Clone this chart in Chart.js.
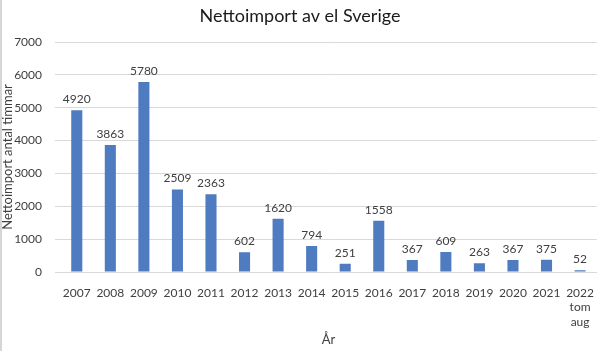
<!DOCTYPE html>
<html>
<head>
<meta charset="utf-8">
<script src="https://cdn.jsdelivr.net/npm/chart.js@4"></script>
<style>
  html, body { margin: 0; padding: 0; background: #fff; }
  #wrap { width: 600px; height: 351px; }
</style>
</head>
<body>
<div id="wrap"><canvas id="chart" width="600" height="351"></canvas></div>
<script>
// ── Data ────────────────────────────────────────────────
const years  = ["2007", "2008", "2009", "2010", "2011", "2012", "2013", "2014",
                "2015", "2016", "2017", "2018", "2019", "2020", "2021", ["2022", "tom", "aug"]];
const hours  = [4920, 3863, 5780, 2509, 2363, 602, 1620, 794,
                251, 1558, 367, 609, 263, 367, 375, 52];
const yTicks = [0, 1000, 2000, 3000, 4000, 5000, 6000, 7000];

const FONT = "Lato, 'Open Sans', sans-serif";
const GRID = "#d9d9d9";
const TEXT = "#404040";

// value labels above each bar
const valueLabels = {
  id: "valueLabels",
  afterDatasetsDraw(chart) {
    const ctx = chart.ctx;
    const meta = chart.getDatasetMeta(0);
    ctx.save();
    ctx.font = "12px " + FONT;
    ctx.fillStyle = TEXT;
    ctx.textAlign = "center";
    ctx.textBaseline = "bottom";
    meta.data.forEach((bar, i) => {
      ctx.fillText(String(hours[i]), bar.x, bar.y - 5);
    });
    ctx.restore();
  }
};

// thin frame line on the left edge, as in the screenshot
const leftEdge = {
  id: "leftEdge",
  afterDraw(chart) {
    const ctx = chart.ctx;
    ctx.save();
    ctx.fillStyle = "#d6d6d6";
    ctx.fillRect(0, 0, 2, chart.height);
    ctx.restore();
  }
};

new Chart(document.getElementById("chart"), {
  type: "bar",
  data: {
    labels: years,
    datasets: [{
      data: hours,
      backgroundColor: "#4f7bc0",
      barPercentage: 0.33,
      categoryPercentage: 1
    }]
  },
  options: {
    responsive: false,
    animation: false,
    layout: { padding: { left: 0, right: 0, top: 0, bottom: 0 } },
    plugins: {
      legend: { display: false },
      tooltip: { enabled: false },
      title: {
        display: true,
        text: "Nettoimport av el Sverige",
        color: "#1a1a1a",
        font: { family: FONT, size: 18, weight: "normal" },
        padding: { top: 5, bottom: 15.4 }
      }
    },
    scales: {
      x: {
        grid: { display: false },
        border: { color: GRID },
        ticks: {
          color: TEXT,
          font: { family: FONT, size: 12 },
          padding: 6,
          maxRotation: 0,
          autoSkip: false
        },
        title: {
          display: true,
          text: "År",
          color: TEXT,
          font: { family: FONT, size: 13 },
          padding: { top: 0, bottom: 3 }
        },
        afterFit(scale) { scale.height = 79; }
      },
      y: {
        min: 0,
        max: 7000,
        afterBuildTicks(scale) { scale.ticks = yTicks.map(v => ({ value: v })); },
        grid: { color: GRID, tickColor: GRID, tickLength: 5 },
        border: { display: false },
        ticks: {
          color: TEXT,
          font: { family: FONT, size: 12 },
          padding: 13,
          callback: v => String(v)
        },
        title: {
          display: true,
          text: "Nettoimport antal timmar",
          color: TEXT,
          font: { family: FONT, size: 13 },
          padding: { top: 0, bottom: 0 }
        },
        afterFit(scale) { scale.width = 60; }
      }
    }
  },
  plugins: [valueLabels, leftEdge]
});
</script>
</body>
</html>
